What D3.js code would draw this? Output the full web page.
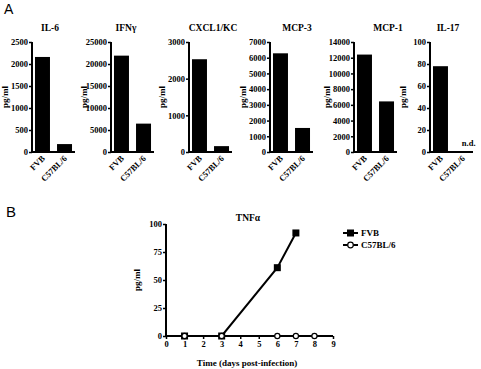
<!DOCTYPE html>
<html><head><meta charset="utf-8">
<script src="https://cdn.jsdelivr.net/npm/d3@7"></script>
<style>
body{margin:0;background:#fff;}
text{font-family:"Liberation Serif","Times New Roman",serif;font-weight:bold;fill:#000;}
</style></head>
<body>
<svg id="c" width="481" height="369"></svg>
<script>
// ---- Panel A data ----
const cytokines = ["IL-6","IFNγ","CXCL1/KC","MCP-3","MCP-1","IL-17"];
const strains = ["FVB","C57BL/6"];
const fvbValues = [2160, 21900, 2530, 6280, 12400, 78];
const c57Values = [180, 6450, 160, 1530, 6440, 0];
const notDetected = [false,false,false,false,false,true];
const yMaxA = [2500, 25000, 3000, 7000, 14000, 100];
const yStepA = [500, 5000, 1000, 1000, 2000, 20];

// ---- Panel B data ----
const days = [0,1,2,3,4,5,6,7,8,9];
const fvbDays = [1,3,6,7];
const fvbTNF = [0,0,61,92];
const c57Days = [1,3,6,7,8];
const c57TNF = [0,0,0,0,0];
const tnfTicks = [0,25,50,75,100];

const svg = d3.select("#c");
const serif = "'Liberation Serif','Times New Roman',serif";

function styleAxis(ga){
  ga.selectAll(".tick line").attr("stroke","#000").attr("stroke-width",1.5);
  ga.selectAll(".tick text").attr("fill","#000").style("font-size","8.5px")
    .style("font-family",serif).style("font-weight","bold");
}

// panel letters
svg.append("text").attr("x",4).attr("y",14).style("font-family","'Liberation Sans',Arial,sans-serif")
  .style("font-weight","normal").style("font-size","14px").text("A");
svg.append("text").attr("x",6).attr("y",217).style("font-family","'Liberation Sans',Arial,sans-serif")
  .style("font-weight","normal").style("font-size","15px").text("B");

// ---- Panel A ----
const axisXs = [32,111,189,270,354,430];
const titleXs = [50,126,213,297,388,448];
const yTop = 42, yBot = 152;

cytokines.forEach((name,i)=>{
  const A = axisXs[i];
  const g = svg.append("g");
  const x = d3.scaleBand().domain(strains).range([A+1, A+42]).paddingInner(0.32).paddingOuter(0.09);
  const y = d3.scaleLinear().domain([0, yMaxA[i]]).range([yBot, yTop]);
  const vals = [fvbValues[i], c57Values[i]];

  g.selectAll("rect").data(strains).join("rect")
    .attr("x", d=>x(d)).attr("width", x.bandwidth())
    .attr("y", (d,k)=> Math.min(y(vals[k]), yBot-1))
    .attr("height", (d,k)=> Math.max(yBot - y(vals[k]), 1))
    .attr("fill","#000");

  const ticks = d3.range(0, yMaxA[i]+1, yStepA[i]);
  const yAxis = d3.axisLeft(y).tickValues(ticks).tickSize(3).tickPadding(1).tickFormat(d3.format("d"));
  const ga = g.append("g").attr("transform",`translate(${A},0)`).call(yAxis);
  ga.select(".domain").attr("stroke","#000").attr("stroke-width",2).attr("d",`M0,${yTop}V${yBot}`);
  styleAxis(ga);

  // x axis line
  g.append("line").attr("x1",A-1).attr("x2",A+43).attr("y1",yBot).attr("y2",yBot)
    .attr("stroke","#000").attr("stroke-width",2);

  // rotated category labels
  g.selectAll("text.cat").data(strains).join("text").attr("class","cat")
    .attr("x", d=>x(d)+x.bandwidth()/2+3).attr("y", yBot+7)
    .attr("transform", d=>`rotate(-45,${x(d)+x.bandwidth()/2+3},${yBot+7})`)
    .attr("text-anchor","end").style("font-size","8.5px").text(d=>d);

  // title
  g.append("text").attr("x",titleXs[i]).attr("y",31).attr("text-anchor","middle")
    .style("font-size","9.5px").text(name);
  // y label
  g.append("text").attr("transform",`translate(${A-24},${(yTop+yBot)/2}) rotate(-90)`)
    .attr("text-anchor","middle").style("font-size","9px").text("pg/ml");

  if (notDetected[i]) {
    g.append("text").attr("x", x(strains[1])+x.bandwidth()/2+13).attr("y",yBot-6)
      .attr("text-anchor","end").style("font-size","8.5px").text("n.d.");
  }
});

// ---- Panel B ----
const xB = d3.scaleLinear().domain([0,9]).range([166,333]);
const yB = d3.scaleLinear().domain([0,100]).range([336,224]);
const gB = svg.append("g");

const xAxisB = d3.axisBottom(xB).tickValues(days).tickSize(3).tickPadding(2).tickFormat(d3.format("d"));
const gx = gB.append("g").attr("transform",`translate(0,${yB(0)})`).call(xAxisB);
gx.select(".domain").attr("stroke","#000").attr("stroke-width",2).attr("d",`M${xB(0)-1},0H${xB(9)}`);
styleAxis(gx);

const yAxisB = d3.axisLeft(yB).tickValues(tnfTicks).tickSize(3).tickPadding(1);
const gy = gB.append("g").attr("transform",`translate(${xB(0)},0)`).call(yAxisB);
gy.select(".domain").attr("stroke","#000").attr("stroke-width",2).attr("d",`M0,${yB(100)}V${yB(0)}`);
styleAxis(gy);

gB.append("text").attr("transform",`translate(140,${(yB(0)+yB(100))/2}) rotate(-90)`)
  .attr("text-anchor","middle").style("font-size","9px").text("pg/ml");
gB.append("text").attr("x",248).attr("y",221).attr("text-anchor","middle").style("font-size","9.5px").text("TNFα");
gB.append("text").attr("x",247).attr("y",366).attr("text-anchor","middle").style("font-size","9px").text("Time (days post-infection)");

const line = d3.line().x(d=>xB(d[0])).y(d=>yB(d[1]));
const fvbPts = fvbDays.map((d,k)=>[d,fvbTNF[k]]);
const c57Pts = c57Days.map((d,k)=>[d,c57TNF[k]]);
gB.append("path").attr("d",line(c57Pts)).attr("fill","none").attr("stroke","#000").attr("stroke-width",2);
gB.append("path").attr("d",line(fvbPts)).attr("fill","none").attr("stroke","#000").attr("stroke-width",2);
gB.selectAll("rect.fvb").data(fvbPts).join("rect").attr("class","fvb")
  .attr("x",d=>xB(d[0])-3.5).attr("y",d=>yB(d[1])-3.5).attr("width",7).attr("height",7).attr("fill","#000");
gB.selectAll("circle.c57").data(c57Pts).join("circle").attr("class","c57")
  .attr("cx",d=>xB(d[0])).attr("cy",d=>yB(d[1])).attr("r",2.6)
  .attr("fill","#fff").attr("stroke","#000").attr("stroke-width",1.2);

// legend
const legY = [233,245];
const lg = gB.append("g");
lg.selectAll("line").data(strains).join("line")
  .attr("x1",343).attr("x2",358).attr("y1",(d,k)=>legY[k]).attr("y2",(d,k)=>legY[k])
  .attr("stroke","#000").attr("stroke-width",2);
lg.append("rect").attr("x",347).attr("y",legY[0]-3.5).attr("width",7).attr("height",7).attr("fill","#000");
lg.append("circle").attr("cx",350.5).attr("cy",legY[1]).attr("r",2.8).attr("fill","#fff").attr("stroke","#000").attr("stroke-width",1.2);
lg.selectAll("text").data(strains).join("text")
  .attr("x",361).attr("y",(d,k)=>legY[k]+3).style("font-size","9px").text(d=>d);
</script>
</body></html>
